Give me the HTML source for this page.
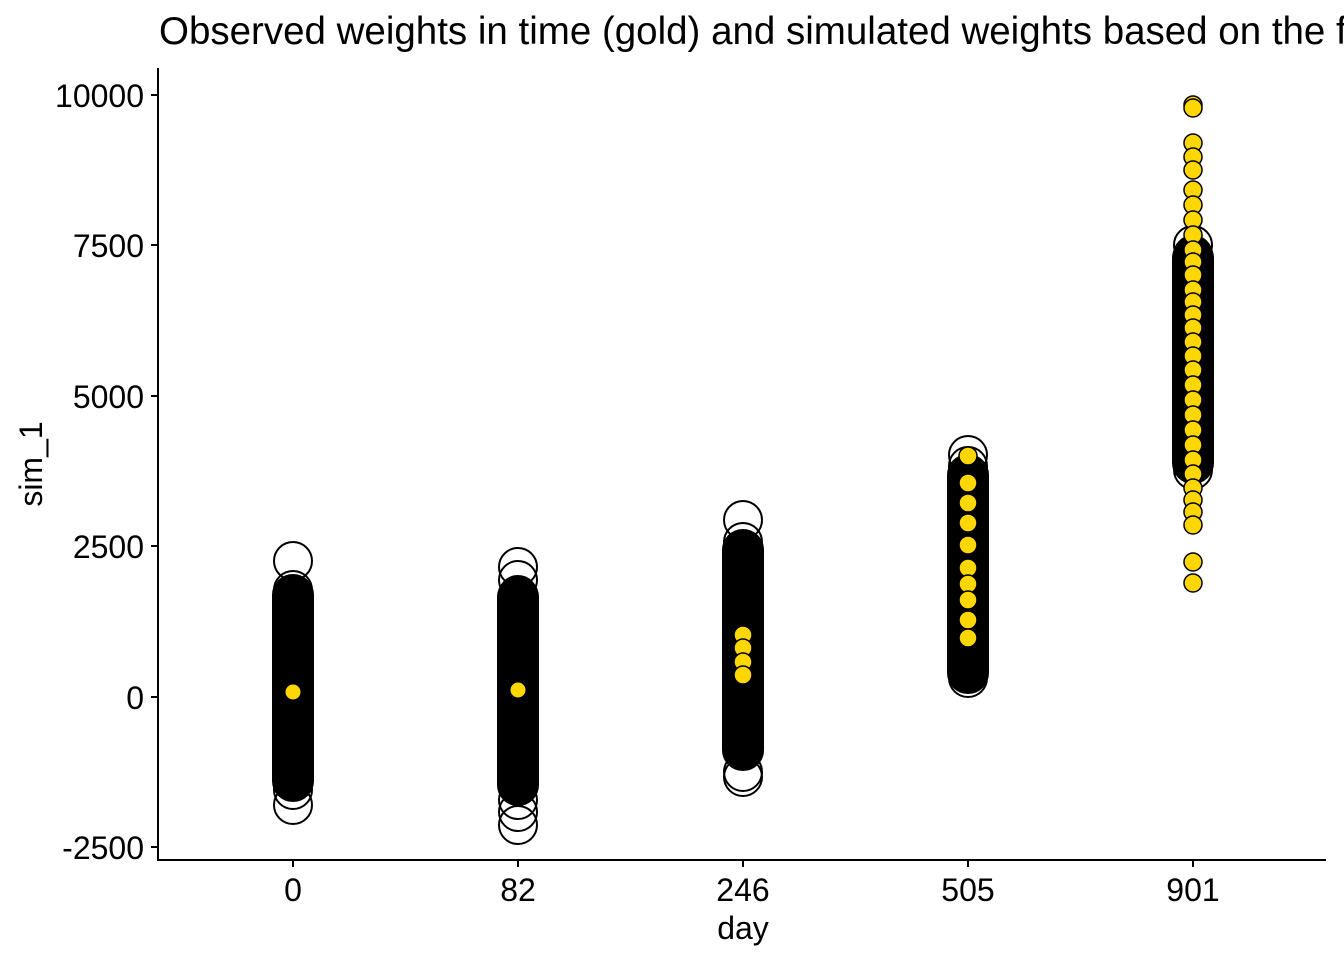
<!DOCTYPE html>
<html><head><meta charset="utf-8"><style>
body{margin:0;background:#fff;overflow:hidden}
svg text{font-family:"Liberation Sans",Arial,sans-serif;fill:#000}
</style></head><body>
<svg width="1344" height="960" viewBox="0 0 1344 960" xmlns="http://www.w3.org/2000/svg">
<text x="159" y="44" font-size="38.5">Observed weights in time (gold) and simulated weights based on the fit</text>
<g fill="none" stroke="#000" stroke-width="2">
<rect x="273" y="575" width="40" height="226" rx="20" fill="#000"/>
<circle cx="293" cy="561" r="19"/><circle cx="293" cy="590" r="19"/><circle cx="293" cy="790" r="19"/><circle cx="293" cy="805" r="19"/>
<rect x="498" y="577" width="40" height="228" rx="20" fill="#000"/>
<circle cx="518" cy="567" r="19"/><circle cx="518" cy="580" r="19"/><circle cx="518" cy="595" r="19"/><circle cx="518" cy="800" r="19"/><circle cx="518" cy="812" r="19"/><circle cx="518" cy="825" r="19"/>
<rect x="723" y="530" width="40" height="240" rx="20" fill="#000"/>
<circle cx="743" cy="520" r="19"/><circle cx="743" cy="542" r="19"/><circle cx="743" cy="555" r="19"/><circle cx="743" cy="772" r="19"/><circle cx="743" cy="777" r="19"/>
<rect x="948" y="455" width="40" height="238" rx="20" fill="#000"/>
<circle cx="968" cy="455" r="19"/><circle cx="968" cy="466" r="19"/><circle cx="968" cy="678" r="19"/>
<rect x="1173" y="238" width="40" height="245" rx="20" fill="#000"/>
<circle cx="1193" cy="245" r="19"/><circle cx="1193" cy="255" r="19"/><circle cx="1193" cy="460" r="19"/><circle cx="1193" cy="470" r="19"/>
</g>
<g fill="#FFD700" stroke="#000" stroke-width="1.5">
<circle cx="293" cy="692" r="7.5" stroke="none"/>
<circle cx="518" cy="690" r="7.5" stroke="none"/>
<circle cx="743" cy="635" r="9"/><circle cx="743" cy="648" r="9"/><circle cx="743" cy="662" r="9"/><circle cx="743" cy="675" r="9"/>
<circle cx="968" cy="456" r="9"/><circle cx="968" cy="483" r="9"/><circle cx="968" cy="503" r="9"/><circle cx="968" cy="523" r="9"/><circle cx="968" cy="545" r="9"/><circle cx="968" cy="568" r="9"/><circle cx="968" cy="584" r="9"/><circle cx="968" cy="600" r="9"/><circle cx="968" cy="620" r="9"/><circle cx="968" cy="638" r="9"/>
<circle cx="1193" cy="105" r="9"/><circle cx="1193" cy="108" r="9"/><circle cx="1193" cy="143" r="9"/><circle cx="1193" cy="157" r="9"/><circle cx="1193" cy="170" r="9"/><circle cx="1193" cy="190" r="9"/><circle cx="1193" cy="205" r="9"/><circle cx="1193" cy="220" r="9"/><circle cx="1193" cy="235" r="9"/><circle cx="1193" cy="250" r="9"/><circle cx="1193" cy="262" r="9"/><circle cx="1193" cy="275" r="9"/><circle cx="1193" cy="290" r="9"/><circle cx="1193" cy="302" r="9"/><circle cx="1193" cy="315" r="9"/><circle cx="1193" cy="328" r="9"/><circle cx="1193" cy="342" r="9"/><circle cx="1193" cy="356" r="9"/><circle cx="1193" cy="370" r="9"/><circle cx="1193" cy="385" r="9"/><circle cx="1193" cy="400" r="9"/><circle cx="1193" cy="415" r="9"/><circle cx="1193" cy="430" r="9"/><circle cx="1193" cy="445" r="9"/><circle cx="1193" cy="460" r="9"/><circle cx="1193" cy="474" r="9"/><circle cx="1193" cy="488" r="9"/><circle cx="1193" cy="500" r="9"/><circle cx="1193" cy="512" r="9"/><circle cx="1193" cy="525" r="9"/><circle cx="1193" cy="562" r="9"/><circle cx="1193" cy="583" r="9"/>
</g>
<g stroke="#000" stroke-width="2" fill="none">
<path d="M158 68V860H1326"/>
<path d="M151 95H158M151 245H158M151 396H158M151 546H158M151 697H158M151 847H158"/>
<path d="M293 860V867M518 860V867M743 860V867M968 860V867M1193 860V867"/>
</g>
<g font-size="32" text-anchor="end">
<text x="144" y="107">10000</text><text x="144" y="257">7500</text><text x="144" y="408">5000</text><text x="144" y="558">2500</text><text x="144" y="709">0</text><text x="144" y="859">-2500</text>
</g>
<g font-size="32" text-anchor="middle">
<text x="293" y="901">0</text><text x="518" y="901">82</text><text x="743" y="901">246</text><text x="968" y="901">505</text><text x="1193" y="901">901</text>
<text x="743" y="939">day</text>
</g>
<text font-size="32" text-anchor="middle" transform="translate(42,464) rotate(-90)">sim_1</text>
</svg>
</body></html>
